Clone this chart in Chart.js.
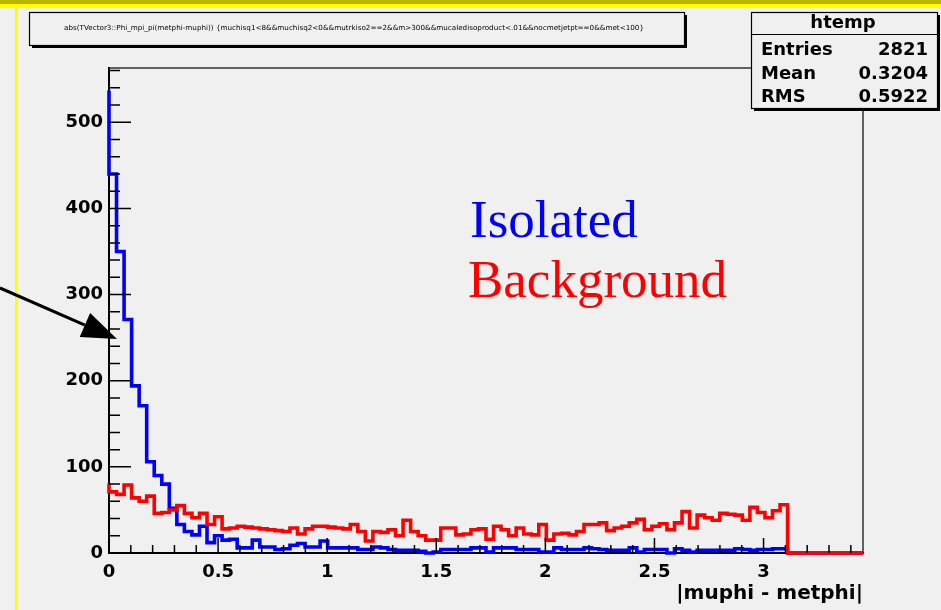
<!DOCTYPE html>
<html>
<head>
<meta charset="utf-8">
<script src="https://cdn.jsdelivr.net/npm/chart.js@4.4.1/dist/chart.umd.min.js"></script>
<style>
  html, body { margin: 0; padding: 0; background: #f0f0f0; overflow: hidden; }
  #wrap { width: 941px; height: 610px; }
</style>
</head>
<body>
<div id="wrap"><canvas id="c" width="941" height="610"></canvas></div>
<script>
// histogram binning (htemp: 100 bins)
const X_MIN = 0;
const X_MAX = 3.4558;
const N_BINS = 100;
const Y_MAX = 563;

// counts per bin
const isolatedCounts = [
  537, 440, 350, 271, 194, 171, 106, 90, 80, 52,
  33, 25, 21, 31, 12, 20, 15, 16, 6, 6,
  15, 7, 7, 4, 5, 9, 11, 7, 7, 14,
  6, 6, 6, 6, 4, 4, 7, 6, 4, 3,
  3, 3, 2, 0, 1, 4, 4, 4, 4, 6,
  6, 1, 6, 6, 6, 4, 4, 4, 1, 1,
  6, 4, 4, 4, 6, 5, 4, 3, 3, 3,
  6, 1, 4, 4, 4, 0, 5, 3, 1, 3,
  3, 3, 3, 3, 5, 4, 3, 4, 4, 5,
  5, 0, 0, 0, 0, 0, 0, 0, 0, 0
];
const backgroundCounts = [
  81, 71, 68, 79, 64, 60, 66, 46, 47, 50,
  55, 46, 41, 46, 33, 42, 28, 29, 31, 30,
  29, 28, 27, 26, 25, 29, 22, 28, 31, 31,
  30, 29, 28, 33, 25, 14, 25, 24, 27, 20,
  38, 25, 20, 15, 15, 29, 29, 21, 22, 27,
  28, 16, 31, 27, 20, 29, 22, 21, 33, 15,
  22, 23, 21, 25, 33, 33, 35, 26, 29, 31,
  35, 39, 27, 31, 34, 27, 35, 48, 29, 44,
  41, 38, 46, 45, 44, 38, 53, 47, 41, 49,
  56, 0, 0, 0, 0, 0, 0, 0, 0, 0
];

// axis ticks
const xTicks = [0, 0.5, 1, 1.5, 2, 2.5, 3];
const xTickLabels = ['0', '0.5', '1', '1.5', '2', '2.5', '3'];
const yTicks = [0, 100, 200, 300, 400, 500];
const yTickLabels = ['0', '100', '200', '300', '400', '500'];

const titleText = 'abs(TVector3::Phi_mpi_pi(metphi-muphi)) {muchisq1<8&&muchisq2<0&&mutrkiso2==2&&m>300&&mucaledisoproduct<.01&&nocmetjetpt==0&&met<100}';
const statsRows = [['Entries', '2821'], ['Mean', '0.3204'], ['RMS', '0.5922']];

const SANS = '"DejaVu Sans", "Liberation Sans", Arial, sans-serif';
const SERIF = '"Liberation Serif", "Times New Roman", serif';

// histogram outline as a stepped line: one point per lower bin edge + the last edge
function toSteps(counts) {
  const w = (X_MAX - X_MIN) / N_BINS;
  const pts = counts.map((v, i) => ({ x: X_MIN + i * w, y: v }));
  pts.push({ x: X_MAX, y: counts[counts.length - 1] });
  return pts;
}

function boxWithShadow(ctx, x, y, w, h) {
  ctx.fillStyle = '#000';
  ctx.fillRect(x + 3, y + 3, w, h);
  ctx.fillStyle = '#f0f0f0';
  ctx.fillRect(x, y, w, h);
  ctx.strokeStyle = '#000';
  ctx.lineWidth = 1.2;
  ctx.strokeRect(x + 0.5, y + 0.5, w, h);
}

const decorations = {
  id: 'decorations',
  beforeDraw(chart) {
    const ctx = chart.ctx;
    ctx.save();
    ctx.fillStyle = '#f0f0f0';
    ctx.fillRect(0, 0, chart.width, chart.height);
    // yellow page border
    ctx.fillStyle = '#b8b400';
    ctx.fillRect(0, 0, chart.width, 4);
    ctx.fillStyle = '#ffff00';
    ctx.fillRect(0, 4, chart.width, 4);
    ctx.fillRect(15, 4, 3, chart.height - 4);
    ctx.restore();
  },
  beforeDatasetsDraw(chart) {
    const { ctx, chartArea: a } = chart;
    ctx.save();
    ctx.strokeStyle = '#333';
    ctx.lineWidth = 1.5;
    ctx.beginPath();
    ctx.moveTo(a.left, a.top);
    ctx.lineTo(a.right, a.top);
    ctx.lineTo(a.right, a.bottom);
    ctx.stroke();
    ctx.restore();
  },
  afterDatasetsDraw(chart) {
    // ROOT style ticks, drawn inside the frame
    const { ctx, chartArea: a, scales: { x, y } } = chart;
    ctx.save();
    ctx.strokeStyle = '#000';
    ctx.lineWidth = 1.5;
    ctx.beginPath();
    for (let v = 0; v <= Y_MAX; v += 20) {
      const py = y.getPixelForValue(v);
      const len = v % 100 === 0 ? 22 : 11;
      ctx.moveTo(a.left, py);
      ctx.lineTo(a.left + len, py);
    }
    for (let k = 0; k * 0.1 <= X_MAX; k++) {
      const px = x.getPixelForValue(k * 0.1);
      const len = k % 5 === 0 ? 15 : 8;
      ctx.moveTo(px, a.bottom);
      ctx.lineTo(px, a.bottom - len);
    }
    ctx.stroke();
    ctx.restore();
  },
  afterDraw(chart) {
    const ctx = chart.ctx;
    ctx.save();

    // title box
    boxWithShadow(ctx, 29, 12, 655, 33);
    ctx.fillStyle = '#000';
    ctx.font = '7px ' + SANS;
    ctx.textBaseline = 'alphabetic';
    const tw = ctx.measureText(titleText).width;
    ctx.save();
    ctx.translate(64, 30);
    ctx.scale(580 / tw, 1);
    ctx.fillText(titleText, 0, 0);
    ctx.restore();

    // stats box
    boxWithShadow(ctx, 751, 12, 186, 96);
    ctx.beginPath();
    ctx.moveTo(751, 34.5);
    ctx.lineTo(937, 34.5);
    ctx.stroke();
    ctx.fillStyle = '#000';
    ctx.font = 'bold 18px ' + SANS;
    ctx.textAlign = 'center';
    ctx.fillText('htemp', 843, 28);
    statsRows.forEach((r, i) => {
      const by = 55 + i * 23.5;
      ctx.textAlign = 'left';
      ctx.fillText(r[0], 761, by);
      ctx.textAlign = 'right';
      ctx.fillText(r[1], 928, by);
    });

    // legend-like labels
    ctx.textAlign = 'left';
    ctx.font = '53px ' + SERIF;
    ctx.fillStyle = '#0000ff';
    ctx.fillText('Isolated', 470, 237);
    ctx.fillStyle = '#ff0000';
    ctx.fillText('Background', 468, 297);

    // arrow
    const x0 = 0, y0 = 288, x1 = 117, y1 = 339;
    const ang = Math.atan2(y1 - y0, x1 - x0);
    const hl = 35, hw = 13;
    const bx = x1 - hl * Math.cos(ang), by = y1 - hl * Math.sin(ang);
    ctx.strokeStyle = '#000';
    ctx.lineWidth = 3;
    ctx.beginPath();
    ctx.moveTo(x0, y0);
    ctx.lineTo(bx, by);
    ctx.stroke();
    ctx.fillStyle = '#000';
    ctx.beginPath();
    ctx.moveTo(x1, y1);
    ctx.lineTo(bx - hw * Math.sin(ang), by + hw * Math.cos(ang));
    ctx.lineTo(bx + hw * Math.sin(ang), by - hw * Math.cos(ang));
    ctx.closePath();
    ctx.fill();

    ctx.restore();
  }
};

const tickFont = { family: SANS, weight: 'bold', size: 18 };

new Chart(document.getElementById('c'), {
  type: 'line',
  data: {
    datasets: [
      {
        label: 'Background',
        data: toSteps(backgroundCounts),
        borderColor: '#ff0000',
        borderWidth: 3.6,
        stepped: 'after',
        pointRadius: 0,
        fill: false,
        clip: false
      },
      {
        label: 'Isolated',
        data: toSteps(isolatedCounts),
        borderColor: '#0000ff',
        borderWidth: 3.6,
        stepped: 'after',
        pointRadius: 0,
        fill: false,
        clip: false
      }
    ]
  },
  options: {
    responsive: false,
    devicePixelRatio: 1,
    animation: false,
    events: [],
    layout: { padding: { left: 0, right: 78, top: 68, bottom: 0 } },
    plugins: {
      legend: { display: false },
      tooltip: { enabled: false }
    },
    scales: {
      x: {
        type: 'linear',
        min: X_MIN,
        max: X_MAX,
        afterBuildTicks: s => { s.ticks = xTicks.map(v => ({ value: v })); },
        afterFit: s => { s.height = 57; },
        grid: { display: false, drawTicks: false },
        border: { display: true, color: '#000', width: 2 },
        ticks: {
          font: tickFont,
          color: '#000',
          padding: 9,
          maxRotation: 0,
          autoSkip: false,
          callback: (v, i) => xTickLabels[i]
        },
        title: {
          display: true,
          text: '|muphi - metphi|',
          align: 'end',
          color: '#000',
          font: { family: SANS, weight: 'bold', size: 20 },
          padding: { top: 0, bottom: 4 }
        }
      },
      y: {
        type: 'linear',
        min: 0,
        max: Y_MAX,
        afterBuildTicks: s => { s.ticks = yTicks.map(v => ({ value: v })); },
        afterFit: s => { s.width = 109; },
        grid: { display: false, drawTicks: false },
        border: { display: true, color: '#000', width: 2 },
        ticks: {
          font: tickFont,
          color: '#000',
          padding: 6,
          callback: (v, i) => yTickLabels[i]
        }
      }
    }
  },
  plugins: [decorations]
});
</script>
</body>
</html>
